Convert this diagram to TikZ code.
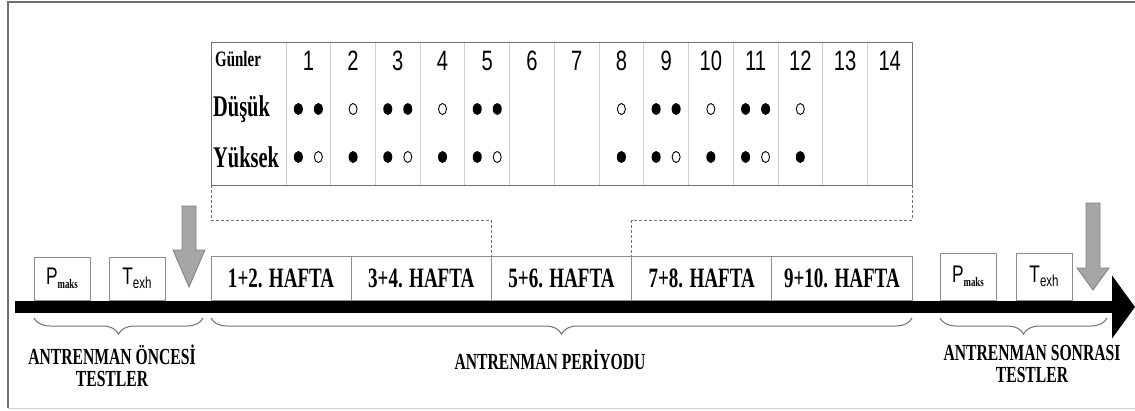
\documentclass[tikz,border=0pt]{standalone}
\usepackage{fontspec}
\usetikzlibrary{positioning,calc,arrows.meta,decorations.pathreplacing}
\newfontfamily\tnr[FakeStretch=0.68]{Liberation Serif}
\newfontfamily\ari[FakeStretch=0.72]{Liberation Sans}
\definecolor{rahmen}{HTML}{707070}
\definecolor{izgara}{HTML}{D0D0D0}
\definecolor{oklar}{HTML}{A6A6A6}

\begin{document}
\begin{tikzpicture}[x=1bp,y=-1bp]
\tikzstyle{tablo} = [rectangle, draw=rahmen, line width=1bp, inner sep=0, outer sep=0]
\tikzstyle{hafta} = [rectangle, draw=rahmen!80, line width=0.8bp, minimum width=140.2bp, minimum height=44bp, inner sep=0, outer sep=0, font=\tnr\bfseries\fontsize{28bp}{30bp}\selectfont]
\tikzstyle{test} = [rectangle, draw=rahmen!80, line width=0.8bp, minimum width=56bp, minimum height=43bp, inner sep=0, outer sep=0, font=\ari\fontsize{24bp}{26bp}\selectfont]
\tikzstyle{gun} = [inner sep=0, font=\ari\fontsize{28bp}{30bp}\selectfont]
\tikzstyle{satir} = [anchor=west, inner sep=0, font=\tnr\bfseries\fontsize{30bp}{32bp}\selectfont]
\tikzstyle{etiket} = [align=center, inner sep=0, font=\tnr\bfseries\fontsize{23bp}{22bp}\selectfont]
\tikzstyle{dolu} = [fill=black]
\tikzstyle{bos} = [draw=black, line width=0.9bp, fill=white]
\tikzstyle{dashline} = [draw=rahmen, dash pattern=on 3bp off 2bp, line width=0.8bp]
\tikzstyle{brace} = [draw=rahmen, line width=1bp, decorate, decoration={brace, mirror, amplitude=16bp}]
\tikzstyle{griok} = [draw=gray, fill=oklar, line width=0.8bp]

\useasboundingbox (0,0) rectangle (1135,410);
% frame
\draw[rahmen, line width=1.2bp] (1135,2) -- (8,2) -- (8,408);
\draw[izgara, line width=1bp] (8,408) -- (1135,408);

% day table
\foreach \c in {0,...,13}
  \draw[izgara, line width=0.8bp] ({286+\c*44.72},42) -- ({286+\c*44.72},185);
\node (tablo) [tablo, minimum width=701bp, minimum height=143bp, anchor=north west] at (211,42) {};
\node (gunler) [satir, font=\tnr\bfseries\fontsize{22bp}{24bp}\selectfont] at (215,59) {Günler};
\node (dusuk) [satir] at (213,109) {Düşük};
\node (yuksek) [satir] at (213,157) {Yüksek};
\foreach \c in {1,...,14}
  \node (g\c) [gun] at ({286+(\c-0.5)*44.72},61) {\c};

% sessions
\foreach \c in {1,3,5,9,11} {
  \fill[dolu] ({286+(\c-0.5)*44.72-10},109) ellipse (4.5bp and 6bp);
  \fill[dolu] ({286+(\c-0.5)*44.72+10},109) ellipse (4.5bp and 6bp);
  \fill[dolu] ({286+(\c-0.5)*44.72-10},157) ellipse (4.5bp and 6bp);
  \draw[bos] ({286+(\c-0.5)*44.72+10},157) ellipse (4bp and 5.5bp);
}
\foreach \c in {2,4,8,10,12} {
  \draw[bos] ({286+(\c-0.5)*44.72},109) ellipse (4bp and 5.5bp);
  \fill[dolu] ({286+(\c-0.5)*44.72},157) ellipse (4.5bp and 6bp);
}

% weeks
\node (h1) [hafta, anchor=south west] at (211,300) {1+2. HAFTA};
\node (h2) [hafta, right=0pt of h1] {3+4. HAFTA};
\node (h3) [hafta, right=0pt of h2] {5+6. HAFTA};
\node (h4) [hafta, right=0pt of h3] {7+8. HAFTA};
\node (h5) [hafta, right=0pt of h4] {9+10. HAFTA};

\draw[dashline] (tablo.south west) -- ++(0,35) -| (h2.north east);
\draw[dashline] (tablo.south east) -- ++(0,35) -| (h4.north west);

% tests
\node (pm1) [test, anchor=south west] at (34,300) {P\raisebox{-0.3ex}{\tnr\bfseries\fontsize{13bp}{14bp}\selectfont maks}};
\node (te1) [test, right=19bp of pm1] {T\raisebox{-0.3ex}{\fontsize{16bp}{17bp}\selectfont exh}};
\node (pm2) [test, anchor=south west, minimum height=47bp] at (940,300) {P\raisebox{-0.3ex}{\tnr\bfseries\fontsize{13bp}{14bp}\selectfont maks}};
\node (te2) [test, right=20bp of pm2, minimum height=47bp] {T\raisebox{-0.3ex}{\fontsize{16bp}{17bp}\selectfont exh}};

\foreach \x/\t/\h/\s in {189/206/250/287, 1093/203/268/290}
  \draw[griok] ({\x-7},\t) -- ({\x+7},\t) -- ({\x+7},\h) -- ({\x+16},\h) -- (\x,\s)
    -- ({\x-16},\h) -- ({\x-7},\h) -- cycle;

% time line
\coordinate (bas) at (15,307);
\coordinate (son) at (1135,307);
\draw[line width=12bp, -{Triangle[length=23bp, width=62bp]}] (bas) -- (son);

% braces
\coordinate (ob1) at (34,318);
\coordinate (ob2) at (203,318);
\coordinate (sb1) at (940,318);
\coordinate (sb2) at (1107,318);
\draw[brace] (ob1) -- (ob2);
\draw[brace] ([yshift=-18bp]h1.south west) -- ([yshift=-18bp]h5.south east);
\draw[brace] (sb1) -- (sb2);

\node (oncesi) [etiket] at (112,366) {ANTRENMAN ÖNCESİ\\TESTLER};
\node (periyot) [etiket] at (550,360) {ANTRENMAN PERİYODU};
\node (sonrasi) [etiket] at (1032,364) {ANTRENMAN SONRASI\\TESTLER};

\end{tikzpicture}
\end{document}
